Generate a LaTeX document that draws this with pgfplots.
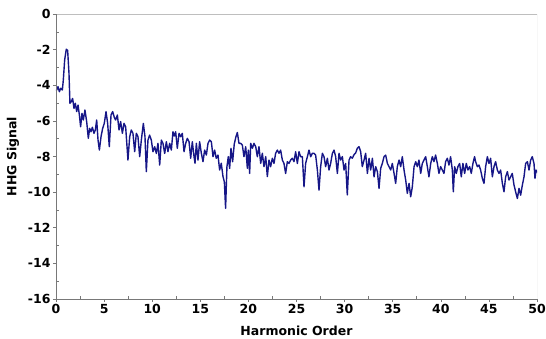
\documentclass[border=0pt]{standalone}
\usepackage{pgfplots}
\pgfplotsset{compat=1.18}
\usepackage{fontspec}
\setmainfont{DejaVu Sans}
\usetikzlibrary{calc}
\definecolor{hhg}{RGB}{22,22,135}
\definecolor{axgray}{RGB}{120,120,120}
\definecolor{boxgray}{RGB}{190,190,190}
\pgfplotstableread{
x y
0.00 -4.30
0.07 -4.27
0.21 -4.08
0.35 -4.36
0.49 -4.17
0.66 -4.27
0.76 -3.71
0.90 -2.58
1.07 -1.98
1.21 -2.04
1.35 -3.33
1.45 -5.01
1.59 -4.92
1.73 -4.74
1.87 -5.30
2.01 -5.01
2.15 -5.48
2.29 -5.11
2.43 -5.67
2.56 -6.33
2.70 -5.58
2.84 -5.95
3.01 -5.39
3.19 -6.05
3.36 -6.98
3.50 -6.42
3.64 -6.61
3.78 -6.36
3.95 -6.70
4.09 -6.51
4.23 -5.95
4.37 -7.08
4.51 -7.64
4.68 -6.89
4.85 -6.42
5.02 -6.14
5.20 -5.48
5.37 -6.14
5.54 -7.45
5.72 -5.67
5.89 -5.48
6.06 -5.80
6.20 -5.95
6.38 -5.67
6.55 -6.51
6.72 -6.04
6.90 -6.70
7.07 -6.14
7.24 -6.33
7.48 -8.20
7.66 -6.89
7.83 -6.51
8.00 -6.70
8.18 -7.73
8.35 -6.70
8.52 -6.89
8.70 -8.01
8.87 -7.08
9.08 -6.14
9.25 -6.89
9.39 -8.85
9.56 -7.08
9.73 -6.80
9.91 -7.08
10.08 -7.73
10.26 -7.45
10.43 -7.83
10.60 -7.26
10.78 -8.48
10.95 -7.08
11.12 -7.26
11.30 -7.83
11.47 -7.17
11.64 -7.73
11.82 -7.26
11.99 -7.64
12.16 -6.61
12.30 -6.85
12.44 -6.61
12.61 -7.54
12.79 -6.70
12.96 -6.89
13.13 -6.70
13.31 -7.73
13.48 -7.26
13.65 -6.98
13.83 -7.17
14.00 -8.10
14.17 -7.17
14.35 -8.01
14.45 -8.38
14.59 -7.26
14.76 -8.20
14.93 -7.17
15.11 -7.82
15.28 -8.29
15.45 -7.64
15.63 -7.92
15.80 -7.26
15.97 -7.08
16.15 -7.17
16.32 -8.01
16.49 -7.64
16.66 -8.10
16.84 -7.92
17.01 -8.76
17.18 -8.38
17.36 -9.13
17.50 -9.42
17.63 -10.91
17.77 -8.57
17.91 -8.01
18.05 -8.67
18.19 -7.54
18.36 -8.29
18.53 -7.30
18.70 -6.90
18.85 -6.65
19.02 -7.26
19.20 -7.26
19.37 -7.36
19.54 -8.01
19.72 -7.45
19.89 -8.66
19.99 -7.64
20.13 -8.95
20.24 -7.26
20.41 -7.54
20.58 -7.26
20.76 -7.45
20.93 -8.01
21.10 -7.45
21.28 -8.39
21.45 -7.82
21.62 -8.57
21.80 -8.01
21.97 -9.13
22.14 -8.20
22.31 -8.57
22.49 -8.10
22.66 -8.39
22.83 -7.82
23.01 -7.64
23.18 -7.82
23.35 -7.64
23.53 -8.20
23.70 -8.39
23.87 -8.95
24.05 -8.29
24.22 -8.39
24.39 -8.20
24.57 -8.10
24.74 -8.29
24.91 -7.73
25.09 -8.39
25.26 -7.73
25.43 -8.01
25.61 -8.01
25.78 -9.70
25.95 -8.39
26.13 -8.01
26.30 -7.64
26.47 -8.01
26.65 -7.82
26.82 -7.82
26.99 -7.92
27.17 -8.76
27.34 -9.89
27.51 -8.57
27.69 -7.82
27.86 -8.01
28.03 -8.57
28.21 -8.10
28.38 -8.76
28.55 -8.39
28.73 -7.82
28.90 -7.64
29.07 -8.01
29.25 -8.95
29.42 -7.82
29.59 -8.20
29.77 -8.01
29.94 -8.76
30.11 -8.39
30.28 -10.16
30.46 -8.20
30.63 -8.01
30.80 -8.10
30.98 -7.90
31.15 -7.80
31.32 -7.54
31.50 -7.45
31.67 -7.73
31.84 -8.57
32.02 -8.20
32.19 -7.82
32.37 -8.95
32.54 -8.10
32.71 -8.76
32.89 -8.10
33.06 -9.14
33.23 -8.57
33.41 -8.85
33.58 -9.79
33.75 -8.67
33.92 -8.39
34.10 -8.01
34.27 -7.92
34.45 -8.39
34.62 -8.57
34.79 -8.76
34.96 -8.39
35.14 -8.95
35.31 -9.51
35.48 -8.57
35.66 -8.20
35.83 -8.57
36.00 -8.01
36.18 -8.76
36.35 -9.32
36.52 -10.07
36.70 -9.51
36.87 -10.26
37.04 -9.70
37.22 -8.57
37.39 -8.29
37.56 -8.57
37.73 -8.20
37.91 -8.95
38.08 -8.39
38.25 -8.20
38.43 -8.01
38.60 -8.57
38.77 -9.14
38.95 -8.39
39.12 -8.01
39.29 -8.29
39.46 -7.92
39.64 -8.39
39.81 -8.95
39.98 -8.57
40.16 -8.76
40.33 -8.95
40.50 -8.29
40.68 -8.10
40.85 -8.48
41.02 -8.01
41.20 -8.76
41.30 -9.98
41.44 -8.57
41.61 -8.95
41.78 -8.57
41.96 -8.39
42.13 -9.14
42.30 -8.39
42.48 -8.95
42.65 -8.39
42.82 -8.76
43.00 -8.57
43.17 -8.95
43.34 -8.39
43.51 -8.01
43.62 -8.29
43.80 -8.57
43.97 -8.48
44.14 -8.76
44.32 -9.23
44.49 -9.51
44.66 -8.57
44.84 -8.01
45.01 -8.39
45.18 -8.10
45.36 -9.14
45.53 -8.57
45.70 -8.29
45.88 -8.76
46.05 -8.95
46.22 -8.76
46.40 -9.51
46.57 -9.98
46.74 -9.14
46.92 -8.85
47.09 -9.32
47.26 -9.14
47.43 -8.95
47.61 -9.60
47.78 -9.98
47.96 -10.36
48.13 -9.79
48.30 -10.17
48.48 -9.60
48.65 -9.14
48.82 -8.39
49.00 -8.29
49.17 -8.76
49.34 -8.20
49.51 -8.01
49.69 -8.39
49.79 -9.23
49.90 -8.76
50.00 -8.90
}\hhgdata
\begin{document}
\begin{tikzpicture}
\begin{axis}[
  scale only axis,
  width=481pt, height=285pt,
  xmin=0, xmax=50, ymin=-16, ymax=0,
  axis line style={draw=none},
  xtick={0,5,...,50},
  ytick={-16,-14,...,0},
  extra x ticks={2.5,7.5,...,47.5},
  extra x tick labels={},
  extra y ticks={-15,-13,...,-1},
  extra y tick labels={},
  extra x tick style={tick align=inside, major tick length=3pt},
  extra y tick style={tick align=inside, major tick length=3pt},
  tick align=outside,
  major tick length=3pt,
  tick style={axgray, line width=0.6pt},
  xtick pos=bottom, ytick pos=left,
  /pgf/number format/assume math mode=true,
  tick label style={font=\fontsize{12.5}{14}\selectfont\bfseries},
  x tick label style={yshift=1pt},
  y tick label style={xshift=1pt},
  xlabel={Harmonic Order},
  ylabel={HHG Signal},
  label style={font=\fontsize{12.5}{14}\selectfont\bfseries},
  xlabel style={yshift=-2pt},
  ylabel style={yshift=-1pt},
  clip=true,
]
\addplot[hhg, line width=1.4pt, line join=round, mark=none] table[x=x,y=y] {\hhgdata};
\draw[boxgray, line width=0.8pt] (rel axis cs:0,1) -- (rel axis cs:1,1) -- (rel axis cs:1,0);
\draw[axgray, line width=0.8pt] (rel axis cs:0,1) -- (rel axis cs:0,0) -- (rel axis cs:1,0);
\end{axis}
\pgfresetboundingbox
\path ($(current axis.south west)+(-56pt,-39pt)$) rectangle ($(current axis.north east)+(9pt,14pt)$);
\end{tikzpicture}
\end{document}
